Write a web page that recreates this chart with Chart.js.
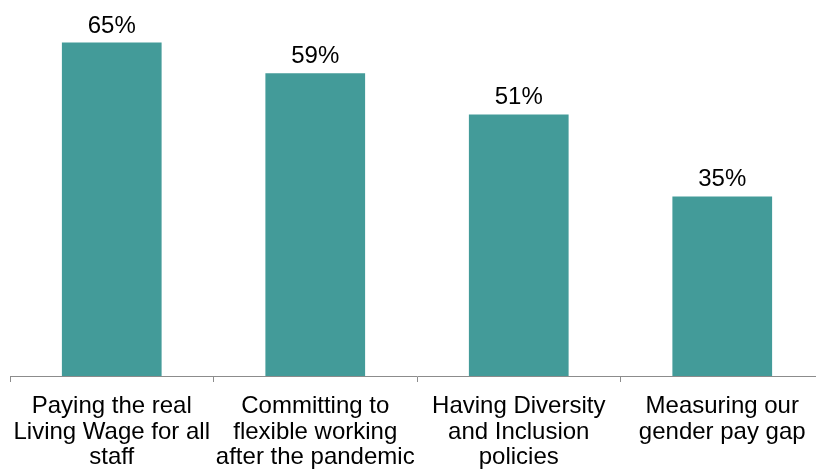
<!DOCTYPE html>
<html lang="en">
<head>
    <meta charset="UTF-8">
    <title>Workplace commitments</title>
    <script src="https://cdn.jsdelivr.net/npm/chart.js"></script>
    <style>
        html, body { margin: 0; padding: 0; background: #fff; overflow: hidden; }
        #wrap { width: 824px; height: 473px; }
    </style>
</head>
<body>
    <div id="wrap"><canvas id="chart" width="824" height="473"></canvas></div>

    <script>
        // data
        const categories = [
            ['Paying the real', 'Living Wage for all', 'staff'],
            ['Committing to', 'flexible working', 'after the pandemic'],
            ['Having Diversity', 'and Inclusion', 'policies'],
            ['Measuring our', 'gender pay gap']
        ];
        const shares = [65, 59, 51, 35];

        // value labels above bars
        const valueLabels = {
            id: 'valueLabels',
            afterDatasetsDraw(chart) {
                const ctx = chart.ctx;
                const meta = chart.getDatasetMeta(0);
                ctx.save();
                ctx.font = '24px "Liberation Sans", Arial, sans-serif';
                ctx.fillStyle = '#000';
                ctx.textAlign = 'center';
                ctx.textBaseline = 'alphabetic';
                meta.data.forEach((bar, i) => {
                    ctx.fillText(shares[i] + '%', bar.x, bar.y - 10);
                });
                ctx.restore();
            }
        };

        new Chart(document.getElementById('chart'), {
            type: 'bar',
            data: {
                labels: categories,
                datasets: [{
                    data: shares,
                    backgroundColor: '#439b99',
                    barPercentage: 0.49,
                    categoryPercentage: 1
                }]
            },
            options: {
                responsive: false,
                animation: false,
                layout: { padding: { left: 10, right: 0, top: 0, bottom: 0 } },
                plugins: { legend: { display: false }, tooltip: { enabled: false } },
                scales: {
                    x: {
                        offset: true,
                        afterFit(scale) { scale.height = 97; },
                        border: { display: true, color: '#8c8c8c', width: 1 },
                        grid: {
                            offset: true,
                            drawOnChartArea: false,
                            drawTicks: true,
                            tickLength: 6,
                            color: '#8c8c8c'
                        },
                        ticks: {
                            color: '#000',
                            padding: 11,
                            maxRotation: 0,
                            autoSkip: false,
                            font: { family: '"Liberation Sans", Arial, sans-serif', size: 24, lineHeight: 1.08 }
                        }
                    },
                    y: {
                        display: false,
                        min: 0,
                        max: 73.3
                    }
                }
            },
            plugins: [valueLabels]
        });
    </script>
</body>
</html>
